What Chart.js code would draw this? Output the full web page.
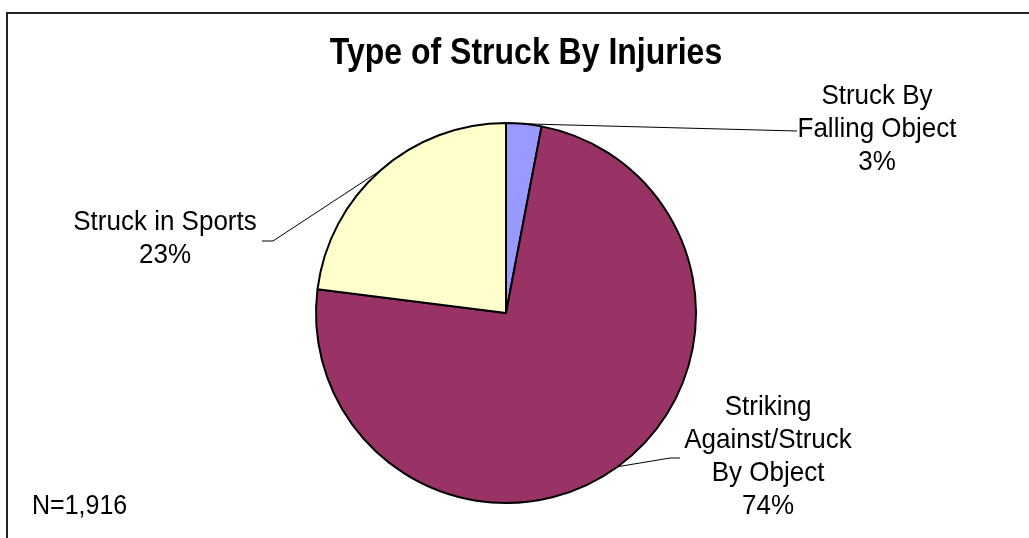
<!DOCTYPE html>
<html>
<head>
<meta charset="utf-8">
<script src="https://cdn.jsdelivr.net/npm/chart.js@4/dist/chart.umd.min.js"></script>
<style>
  html, body { margin: 0; padding: 0; background: #fff; }
  #wrap { width: 1029px; height: 538px; position: relative; }
</style>
</head>
<body>
<div id="wrap"><canvas id="pieChart" width="1029" height="538"></canvas></div>
<script>
const chartTitle = 'Type of Struck By Injuries';
const categories = ['Struck By Falling Object', 'Striking Against/Struck By Object', 'Struck in Sports'];
const labelLines = [['Struck By', 'Falling Object'], ['Striking', 'Against/Struck', 'By Object'], ['Struck in Sports']];
const percents = [3, 74, 23];
const sliceColors = ['#9999FF', '#993366', '#FFFFCC'];
const noteText = 'N=1,916';

// where each label block sits and where its leader line ends
const labelPlaces = [
  { x: 877, y: 96, lead: [[797, 131]] },
  { x: 768, y: 407, lead: [[670, 458], [680, 458]] },
  { x: 165, y: 222, lead: [[273, 241], [262, 241]] }
];
const FONT = '"Liberation Sans", Arial, sans-serif';
const LINE_H = 33;

// the source text is a bit taller than it is wide, so stretch it vertically
function tallText(c, txt, x, y, sy) {
  c.save();
  c.translate(x, y);
  c.scale(1, sy);
  c.fillText(txt, 0, 0);
  c.restore();
}

const decor = {
  id: 'decor',
  afterDraw(chart) {
    const c = chart.ctx;
    c.save();
    // frame (only top and left show in the picture)
    c.strokeStyle = '#222';
    c.lineWidth = 2;
    c.beginPath();
    c.moveTo(7, 538);
    c.lineTo(7, 13);
    c.lineTo(1029, 13);
    c.stroke();

    c.fillStyle = '#000';
    c.textAlign = 'center';
    c.textBaseline = 'middle';
    c.font = 'bold 32px ' + FONT;
    tallText(c, chartTitle, 526, 54, 1.15);

    const arcs = chart.getDatasetMeta(0).data;
    c.font = '26px ' + FONT;
    arcs.forEach((arc, i) => {
      const p = arc.getProps(['x', 'y', 'startAngle', 'endAngle', 'outerRadius'], true);
      const mid = (p.startAngle + p.endAngle) / 2;
      const sx = p.x + Math.cos(mid) * p.outerRadius;
      const sy = p.y + Math.sin(mid) * p.outerRadius;
      c.strokeStyle = '#000';
      c.lineWidth = 1;
      c.beginPath();
      c.moveTo(sx, sy);
      labelPlaces[i].lead.forEach(pt => c.lineTo(pt[0], pt[1]));
      c.stroke();

      const lines = labelLines[i].concat([percents[i] + '%']);
      lines.forEach((t, k) => {
        tallText(c, t, labelPlaces[i].x, labelPlaces[i].y + k * LINE_H, 1.08);
      });
    });

    c.textAlign = 'left';
    c.font = '25px ' + FONT;
    tallText(c, noteText, 32, 507, 1.08);
    c.restore();
  }
};

new Chart(document.getElementById('pieChart').getContext('2d'), {
  type: 'pie',
  data: {
    labels: categories,
    datasets: [{
      data: percents,
      backgroundColor: sliceColors,
      borderColor: '#000',
      borderWidth: 2
    }]
  },
  options: {
    responsive: false,
    animation: false,
    events: [],
    layout: { padding: { left: 315, right: 332, top: 122, bottom: 34 } },
    plugins: {
      legend: { display: false },
      tooltip: { enabled: false },
      title: { display: false }
    }
  },
  plugins: [decor]
});
</script>
</body>
</html>
